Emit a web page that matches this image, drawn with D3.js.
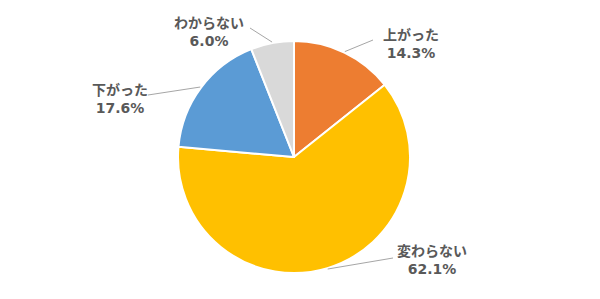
<!DOCTYPE html>
<html>
<head>
<meta charset="utf-8">
<script src="https://cdn.jsdelivr.net/npm/d3@7/dist/d3.min.js"></script>
<style>
  html, body { margin: 0; padding: 0; background: #fff; }
  svg { display: block; }
</style>
</head>
<body>
<svg id="chart" width="600" height="299"></svg>
<script>
// Survey answers, clockwise from 12 o'clock
const categories = ["上がった", "変わらない", "下がった", "わからない"];
const shares = [14.3, 62.1, 17.6, 6.0];
const sliceColors = ["#ED7D31", "#FFC000", "#5B9BD5", "#D9D9D9"];

// Label placement: text centre and end of the leader line, relative to pie centre
const labelLayout = {
  "上がった":   { tx: 117, ty: -117, lx: 79,  ly: -117 },
  "変わらない": { tx: 138, ty: 99,   lx: 99,  ly: 101 },
  "下がった":   { tx: -174, ty: -62, lx: -146, ly: -62 },
  "わからない": { tx: -85, ty: -129, lx: -44, ly: -129 }
};

const cx = 294, cy = 157, radius = 116;
const svg = d3.select("#chart");
const g = svg.append("g").attr("transform", `translate(${cx},${cy})`);

const data = categories.map((c, i) => ({ category: c, value: shares[i], color: sliceColors[i] }));

const pie = d3.pie().value(d => d.value).sort(null);
const arc = d3.arc().innerRadius(0).outerRadius(radius);
const arcs = pie(data);

g.selectAll("path.slice")
  .data(arcs)
  .join("path")
  .attr("class", "slice")
  .attr("d", arc)
  .attr("fill", d => d.data.color)
  .attr("stroke", "#fff")
  .attr("stroke-width", 2)
  .attr("stroke-linejoin", "round");

// Leader lines from the slice edge at its mid-angle
g.selectAll("line.leader")
  .data(arcs)
  .join("line")
  .attr("class", "leader")
  .attr("x1", d => Math.sin((d.startAngle + d.endAngle) / 2) * (radius + 1))
  .attr("y1", d => -Math.cos((d.startAngle + d.endAngle) / 2) * (radius + 1))
  .attr("x2", d => labelLayout[d.data.category].lx)
  .attr("y2", d => labelLayout[d.data.category].ly)
  .attr("stroke", "#A6A6A6")
  .attr("stroke-width", 1);

const labels = g.selectAll("g.label")
  .data(arcs)
  .join("g")
  .attr("class", "label")
  .attr("font-weight", "bold")
  .attr("font-size", 14)
  .attr("fill", "#595959")
  .attr("text-anchor", "middle");

labels.append("text")
  .attr("font-family", "'Noto Sans CJK JP', 'Noto Sans', sans-serif")
  .attr("x", d => labelLayout[d.data.category].tx)
  .attr("y", d => labelLayout[d.data.category].ty)
  .text(d => d.data.category);

labels.append("text")
  .attr("font-family", "'DejaVu Sans', sans-serif")
  .attr("x", d => labelLayout[d.data.category].tx)
  .attr("y", d => labelLayout[d.data.category].ty + 18)
  .text(d => d.data.value.toFixed(1) + "%");
</script>
</body>
</html>
